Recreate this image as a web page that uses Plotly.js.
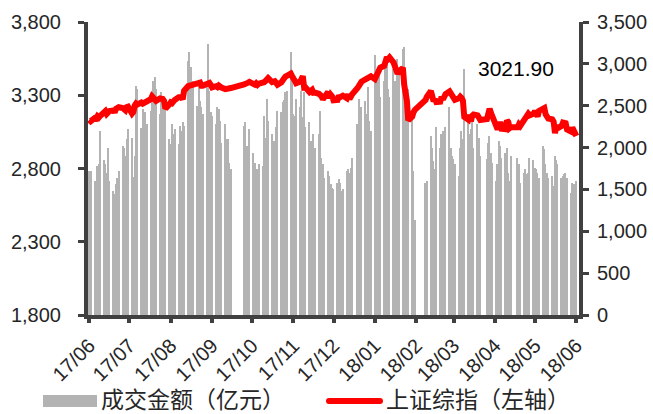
<!DOCTYPE html>
<html>
<head>
<meta charset="utf-8">
<script src="https://cdn.plot.ly/plotly-3.0.1.min.js"></script>
<style>
  html, body { margin: 0; padding: 0; background: #ffffff; }
  #chart { width: 653px; height: 414px; }
</style>
</head>
<body>
<div id="chart"></div>
<script>
// Trading days (categories)
const tradeDates = [
  "2017-06-15","2017-06-16","2017-06-19","2017-06-20","2017-06-21","2017-06-22","2017-06-23","2017-06-26","2017-06-27","2017-06-28","2017-06-29","2017-06-30",
  "2017-07-03","2017-07-04","2017-07-05","2017-07-06","2017-07-07","2017-07-10","2017-07-11","2017-07-12","2017-07-13","2017-07-14","2017-07-17","2017-07-18","2017-07-19","2017-07-20","2017-07-21","2017-07-24","2017-07-25","2017-07-26","2017-07-27","2017-07-28","2017-07-31",
  "2017-08-01","2017-08-02","2017-08-03","2017-08-04","2017-08-07","2017-08-08","2017-08-09","2017-08-10","2017-08-11","2017-08-14","2017-08-15","2017-08-16","2017-08-17","2017-08-18","2017-08-21","2017-08-22","2017-08-23","2017-08-24","2017-08-25","2017-08-28","2017-08-29","2017-08-30","2017-08-31",
  "2017-09-01","2017-09-04","2017-09-05","2017-09-06","2017-09-07","2017-09-08","2017-09-11","2017-09-12","2017-09-13","2017-09-14","2017-09-15","2017-09-18","2017-09-19","2017-09-20","2017-09-21","2017-09-22","2017-09-25","2017-09-26","2017-09-27","2017-09-28","2017-09-29",
  "2017-10-09","2017-10-10","2017-10-11","2017-10-12","2017-10-13","2017-10-16","2017-10-17","2017-10-18","2017-10-19","2017-10-20","2017-10-23","2017-10-24","2017-10-25","2017-10-26","2017-10-27","2017-10-30","2017-10-31",
  "2017-11-01","2017-11-02","2017-11-03","2017-11-06","2017-11-07","2017-11-08","2017-11-09","2017-11-10","2017-11-13","2017-11-14","2017-11-15","2017-11-16","2017-11-17","2017-11-20","2017-11-21","2017-11-22","2017-11-23","2017-11-24","2017-11-27","2017-11-28","2017-11-29","2017-11-30",
  "2017-12-01","2017-12-04","2017-12-05","2017-12-06","2017-12-07","2017-12-08","2017-12-11","2017-12-12","2017-12-13","2017-12-14","2017-12-15","2017-12-18","2017-12-19","2017-12-20","2017-12-21","2017-12-22","2017-12-25","2017-12-26","2017-12-27","2017-12-28","2017-12-29",
  "2018-01-02","2018-01-03","2018-01-04","2018-01-05","2018-01-08","2018-01-09","2018-01-10","2018-01-11","2018-01-12","2018-01-15","2018-01-16","2018-01-17","2018-01-18","2018-01-19","2018-01-22","2018-01-23","2018-01-24","2018-01-25","2018-01-26","2018-01-29","2018-01-30","2018-01-31",
  "2018-02-01","2018-02-02","2018-02-05","2018-02-06","2018-02-07","2018-02-08","2018-02-09","2018-02-12","2018-02-13","2018-02-14","2018-02-22","2018-02-23","2018-02-26","2018-02-27","2018-02-28",
  "2018-03-01","2018-03-02","2018-03-05","2018-03-06","2018-03-07","2018-03-08","2018-03-09","2018-03-12","2018-03-13","2018-03-14","2018-03-15","2018-03-16","2018-03-19","2018-03-20","2018-03-21","2018-03-22","2018-03-23","2018-03-26","2018-03-27","2018-03-28","2018-03-29","2018-03-30",
  "2018-04-02","2018-04-03","2018-04-04","2018-04-09","2018-04-10","2018-04-11","2018-04-12","2018-04-13","2018-04-16","2018-04-17","2018-04-18","2018-04-19","2018-04-20","2018-04-23","2018-04-24","2018-04-25","2018-04-26","2018-04-27",
  "2018-05-02","2018-05-03","2018-05-04","2018-05-07","2018-05-08","2018-05-09","2018-05-10","2018-05-11","2018-05-14","2018-05-15","2018-05-16","2018-05-17","2018-05-18","2018-05-21","2018-05-22","2018-05-23","2018-05-24","2018-05-25","2018-05-28","2018-05-29","2018-05-30","2018-05-31",
  "2018-06-01","2018-06-04","2018-06-05","2018-06-06","2018-06-07","2018-06-08","2018-06-11","2018-06-12","2018-06-13","2018-06-14","2018-06-15"
];

// 成交金额（亿元）- right axis
const turnover = [
  1720,1720,1600,1500,1780,1800,2200,1850,1800,1700,2000,1600,
  1480,1450,1560,1640,1720,2020,2000,1900,2100,2220,2120,1650,1900,2740,2700,2230,2460,2300,2420,2280,2440,
  2560,2800,2840,2700,2400,2660,2500,2400,2560,2100,2040,2280,2160,2220,2040,2260,2200,2300,2260,3040,3140,2960,2780,
  2800,2500,2800,2560,2480,2400,2800,3240,2680,2420,2380,2280,2480,2460,2320,2060,2280,2100,2100,1820,1750,
  2260,2300,2020,1800,2220,1940,1820,1560,1740,1800,1780,2380,2120,2580,2320,2160,2080,
  2080,2240,2440,2420,2540,2570,2660,2680,3140,2920,2400,2380,2580,2480,2680,2360,2660,2240,2300,2080,2000,2160,
  2000,2160,2440,1880,1800,1640,1720,1660,1560,1520,1500,1580,1620,1580,1480,1500,1720,1740,1700,1760,1880,
  2280,2580,2480,2480,2560,2400,2720,2320,2200,3100,2720,2900,2980,2600,2800,3060,3000,2700,2600,2940,2800,2400,
  3060,2900,3180,3200,2900,2520,2700,2380,1720,1140,1580,1600,2140,2000,1840,
  1740,2240,2000,2160,2200,2060,2240,2480,2000,1900,1860,1800,1660,2000,2200,2100,2940,2400,2160,2220,2300,2000,
  2280,2120,1900,1860,2060,2140,1940,1820,1600,1800,2080,2020,1880,1940,2000,1700,1600,1900,
  1880,1800,1580,1700,1740,1680,1700,1880,1850,1760,1740,1700,1640,2020,1980,1800,1700,1640,1660,1540,1900,1850,
  1800,1640,1660,1680,1700,1640,1460,1580,1560,1500,1600
];

// 上证综指（左轴）
const sseIndex = [
  3132,3123,3144,3141,3156,3147,3158,3185,3191,3173,3188,3192,
  3196,3183,3208,3212,3218,3213,3203,3197,3219,3222,3176,3187,3231,3244,3237,3250,3243,3247,3249,3253,3273,
  3292,3286,3272,3262,3279,3281,3275,3262,3209,3237,3251,3246,3268,3268,3287,3290,3287,3272,3331,3362,3365,3363,3361,
  3367,3380,3385,3386,3365,3365,3377,3380,3384,3371,3354,3362,3356,3366,3357,3353,3342,3343,3345,3340,3349,
  3374,3382,3388,3386,3391,3378,3372,3381,3371,3379,3380,3389,3397,3408,3417,3390,3393,
  3396,3384,3372,3389,3414,3416,3427,3433,3447,3430,3403,3400,3382,3393,3411,3430,3352,3353,3322,3333,3337,3317,
  3318,3310,3304,3294,3272,3290,3322,3280,3303,3292,3266,3268,3297,3287,3300,3297,3280,3306,3275,3296,3307,
  3349,3369,3386,3392,3409,3414,3421,3425,3429,3410,3437,3444,3474,3488,3501,3546,3560,3548,3558,3524,3488,3481,
  3447,3462,3487,3371,3310,3263,3129,3154,3185,3200,3268,3290,3329,3292,3259,
  3273,3254,3256,3289,3271,3288,3308,3326,3310,3291,3291,3269,3279,3290,3281,3263,3152,3133,3166,3122,3161,3169,
  3163,3137,3131,3138,3190,3208,3180,3159,3111,3067,3091,3118,3071,3068,3128,3117,3075,3082,
  3081,3101,3091,3137,3161,3159,3174,3163,3174,3192,3170,3155,3193,3214,3213,3169,3155,3141,3135,3120,3041,3095,
  3075,3091,3114,3115,3109,3067,3053,3079,3050,3044,3021.90
];

const seriesNames = ["成交金额（亿元）", "上证综指（左轴）"];
const lastLabel = "3021.90";

const axisColor = "#404040";
const tickFont = { family: "Liberation Sans, Arial, sans-serif", size: 20, color: "#262626" };
const cjkFont = { family: "Noto Sans CJK SC, sans-serif", size: 23, color: "#262626" };

const traces = [
  {
    type: "bar",
    x: tradeDates,
    y: turnover,
    yaxis: "y",
    name: seriesNames[0],
    width: 86400000,
    marker: { color: "#b3b3b3", line: { width: 0 } },
    hoverinfo: "skip"
  },
  {
    type: "scatter",
    mode: "lines",
    x: tradeDates,
    y: sseIndex,
    yaxis: "y2",
    name: seriesNames[1],
    line: { color: "#ff0000", width: 6 },
    hoverinfo: "skip"
  }
];

// plot area: x 88..579 px, y 22..315 px
const L = 88, R = 579, T = 22, B = 315;
const px = v => (v - L) / (R - L);
const py = v => (B - v) / (B - T);

const axisCommon = {
  ticks: "outside",
  ticklen: 6,
  tickwidth: 3,
  tickcolor: axisColor,
  showline: true,
  linecolor: axisColor,
  linewidth: 4,
  showgrid: false,
  zeroline: false,
  tickfont: tickFont
};

const layout = {
  width: 653,
  height: 414,
  margin: { l: L, r: 653 - R, t: T, b: 414 - B, pad: 0 },
  paper_bgcolor: "#ffffff",
  plot_bgcolor: "#ffffff",
  showlegend: false,
  bargap: 0,
  xaxis: Object.assign({}, axisCommon, {
    type: "date",
    range: ["2017-06-14", "2018-06-17"],
    tick0: "2017-06-15",
    dtick: "M1",
    tickformat: "%y/%m",
    tickangle: -45,
    ticklen: 4,
    tickwidth: 4,
    ticklabelstandoff: 3
  }),
  yaxis: Object.assign({}, axisCommon, {
    side: "right",
    range: [0, 3500],
    tick0: 0,
    dtick: 500,
    tickformat: ",d",
    ticklabelstandoff: 4
  }),
  yaxis2: Object.assign({}, axisCommon, {
    side: "left",
    overlaying: "y",
    range: [1800, 3800],
    tick0: 1800,
    dtick: 500,
    tickformat: ",d",
    ticklabelstandoff: 13
  }),
  shapes: [
    { type: "rect", xref: "paper", yref: "paper", x0: px(43), x1: px(97), y0: py(395), y1: py(407),
      fillcolor: "#b3b3b3", line: { width: 0 } },
    { type: "line", xref: "paper", yref: "paper", x0: px(329), x1: px(380), y0: py(401), y1: py(401),
      line: { color: "#ff0000", width: 6 } },
    { type: "circle", xref: "paper", yref: "paper", xsizemode: "pixel", ysizemode: "pixel",
      xanchor: px(329), yanchor: py(401), x0: -3, x1: 3, y0: -3, y1: 3,
      fillcolor: "#ff0000", line: { width: 0 } },
    { type: "circle", xref: "paper", yref: "paper", xsizemode: "pixel", ysizemode: "pixel",
      xanchor: px(380), yanchor: py(401), x0: -3, x1: 3, y0: -3, y1: 3,
      fillcolor: "#ff0000", line: { width: 0 } }
  ],
  annotations: [
    { xref: "paper", yref: "paper", x: px(99), y: py(398), xanchor: "left", yanchor: "middle",
      text: seriesNames[0], showarrow: false, font: cjkFont },
    { xref: "paper", yref: "paper", x: px(384), y: py(398), xanchor: "left", yanchor: "middle",
      text: seriesNames[1], showarrow: false, font: cjkFont },
    { xref: "paper", yref: "paper", x: px(516), y: py(68), xanchor: "center", yanchor: "middle",
      text: lastLabel, showarrow: false,
      font: { family: "Liberation Sans, Arial, sans-serif", size: 21, color: "#000000" } }
  ]
};

Plotly.newPlot("chart", traces, layout, { displayModeBar: false, responsive: false });
</script>
</body>
</html>
